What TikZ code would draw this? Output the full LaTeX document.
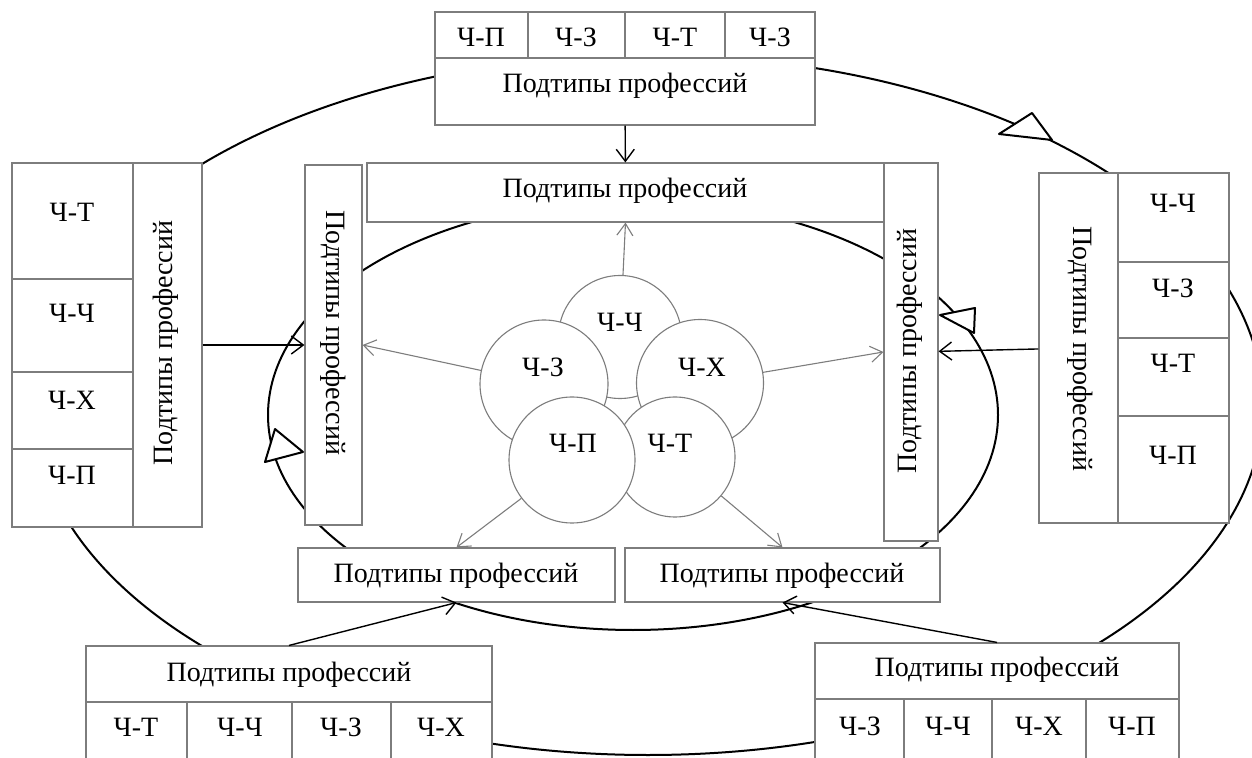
\documentclass[tikz,border=0pt]{standalone}
\usepackage{fontspec}
\setmainfont{Liberation Serif}
\usetikzlibrary{fit,arrows.meta}
\definecolor{boxgray}{RGB}{125,125,125}
\begin{document}
\begin{tikzpicture}[x=0.5pt,y=-0.5pt,
  box/.style={draw=boxgray, line width=0.55pt, fill=white, inner sep=0pt},
  lbl/.style={font=\fontsize{14}{16}\selectfont, inner sep=0pt},
  ring/.style={draw=black, line width=1pt},
  bub/.style={circle, draw=boxgray, line width=0.55pt, fill=white, inner sep=0pt},
  feed/.style={draw=black, line width=0.7pt, -{Straight Barb[length=6pt,width=9pt]}},
  spoke/.style={draw=boxgray, line width=0.55pt, -{Straight Barb[length=6pt,width=8pt]}},
  tri/.style={draw=black, line width=1pt, fill=white, line join=round}]

\useasboundingbox (0,0) rectangle (1252,758);
\clip (0,0) rectangle (1252,758);

% the two cycles
\draw[ring] (648,405) ellipse [x radius=615, y radius=350];
\draw[ring] (633,415) ellipse [x radius=365, y radius=215];

% ---------- top outer block ----------
\node[box, fit={(435,12)(528,58)}] (t1) {};
\node[box, fit={(528,12)(625,58)}] (t2) {};
\node[box, fit={(625,12)(725,58)}] (t3) {};
\node[box, fit={(725,12)(815,58)}] (t4) {};
\node[box, fit={(435,58)(815,125)}] (Tt) {};
\node[lbl] (t1-t) at (481,37) {Ч-П};
\node[lbl] (t2-t) at (576,37) {Ч-З};
\node[lbl] (t3-t) at (675,37) {Ч-Т};
\node[lbl] (t4-t) at (770,37) {Ч-З};
\node[lbl] (Tt-t) at (625,86) {Подтипы профессий};

% ---------- left outer block ----------
\node[box, fit={(12,163)(133,279)}] (l1) {};
\node[box, fit={(12,279)(133,372)}] (l2) {};
\node[box, fit={(12,372)(133,449)}] (l3) {};
\node[box, fit={(12,449)(133,527)}] (l4) {};
\node[box, fit={(133,163)(202,527)}] (Llab) {};
\node[lbl] (l1-t) at (72,212) {Ч-Т};
\node[lbl] (l2-t) at (72,313) {Ч-Ч};
\node[lbl] (l3-t) at (72,400) {Ч-Х};
\node[lbl] (l4-t) at (72,475) {Ч-П};
\node[lbl, rotate=90] (Llab-t) at (166,343) {Подтипы профессий};

% ---------- right outer block ----------
\node[box, fit={(1039,173)(1118,523)}] (Rlab) {};
\node[box, fit={(1118,173)(1229,262)}] (r1) {};
\node[box, fit={(1118,262)(1229,338)}] (r2) {};
\node[box, fit={(1118,338)(1229,416)}] (r3) {};
\node[box, fit={(1118,416)(1229,523)}] (r4) {};
\node[lbl] (r1-t) at (1173,203) {Ч-Ч};
\node[lbl] (r2-t) at (1173,288) {Ч-З};
\node[lbl] (r3-t) at (1173,363) {Ч-Т};
\node[lbl] (r4-t) at (1173,455) {Ч-П};
\node[lbl, rotate=-90] (Rlab-t) at (1080,349) {Подтипы профессий};

% ---------- bottom-left outer block ----------
\node[box, fit={(86,646)(492,702)}] (BLt) {};
\node[box, fit={(86,702)(187,790)}] (bl1) {};
\node[box, fit={(187,702)(292,790)}] (bl2) {};
\node[box, fit={(292,702)(391,790)}] (bl3) {};
\node[box, fit={(391,702)(492,790)}] (bl4) {};
\node[lbl] (BLt-t) at (289,675) {Подтипы профессий};
\node[lbl] (bl1-t) at (136,727) {Ч-Т};
\node[lbl] (bl2-t) at (240,727) {Ч-Ч};
\node[lbl] (bl3-t) at (341,727) {Ч-З};
\node[lbl] (bl4-t) at (441,727) {Ч-Х};

% ---------- bottom-right outer block ----------
\node[box, fit={(815,643)(1179,699)}] (BRt) {};
\node[box, fit={(815,699)(904,790)}] (br1) {};
\node[box, fit={(904,699)(992,790)}] (br2) {};
\node[box, fit={(992,699)(1086,790)}] (br3) {};
\node[box, fit={(1086,699)(1179,790)}] (br4) {};
\node[lbl] (BRt-t) at (997,670) {Подтипы профессий};
\node[lbl] (br1-t) at (860,726) {Ч-З};
\node[lbl] (br2-t) at (948,726) {Ч-Ч};
\node[lbl] (br3-t) at (1039,726) {Ч-Х};
\node[lbl] (br4-t) at (1132,726) {Ч-П};

% ---------- inner frame ----------
\node[box, fit={(367,163)(884,222)}] (IT) {};
\node[box, fit={(305,165)(362,525)}] (IL) {};
\node[box, fit={(884,163)(938,541)}] (IR) {};
\node[box, fit={(298,548)(615,602)}] (IBL) {};
\node[box, fit={(625,548)(940,602)}] (IBR) {};
\node[lbl] (IT-t) at (625,191) {Подтипы профессий};
\node[lbl, rotate=-90] (IL-t) at (333,333) {Подтипы профессий};
\node[lbl, rotate=90] (IR-t) at (910,351) {Подтипы профессий};
\node[lbl] (IBL-t) at (456,576) {Подтипы профессий};
\node[lbl] (IBR-t) at (782,576) {Подтипы профессий};

% direction marks on the cycles
\draw[tri] (1052,140) -- (1032,113) -- (999,134) -- cycle;
\draw[tri] (940,315) -- (975,308) -- (974,333) -- cycle;
\draw[tri] (303,452) -- (275,429) -- (265,462) -- cycle;

% ---------- central cluster ----------
\node[bub, minimum size=61.5pt] (cCh) at (620,337) {};
\node[bub, minimum size=64pt] (cZ) at (544,384) {};
\node[bub, minimum size=63.5pt] (cX) at (700,383) {};
\node[bub, minimum size=60pt] (cT) at (675,457) {};
\node[bub, minimum size=63pt] (cP) at (572,460) {};
\node[lbl] (cCh-t) at (620,322) {Ч-Ч};
\node[lbl] (cZ-t) at (543,367) {Ч-З};
\node[lbl] (cX-t) at (702,367) {Ч-Х};
\node[lbl] (cP-t) at (573,443) {Ч-П};
\node[lbl] (cT-t) at (670,443) {Ч-Т};

% spokes from the cluster to the inner frame
\draw[spoke] (cCh) -- (IT.south);
\draw[spoke] (cZ) -- (IL.east);
\draw[spoke] (cX) -- (IR.west);
\draw[spoke] (cP) -- (IBL.north);
\draw[spoke] (cT) -- (IBR.north);

% feeds from the outer blocks
\draw[feed] (Tt) -- (IT);
\draw[feed] (Llab) -- (IL);
\draw[feed] (Rlab) -- (IR);
\draw[feed] (BLt.north) -- (IBL.south);
\draw[feed] (BRt.north) -- (IBR.south);
\end{tikzpicture}
\end{document}
